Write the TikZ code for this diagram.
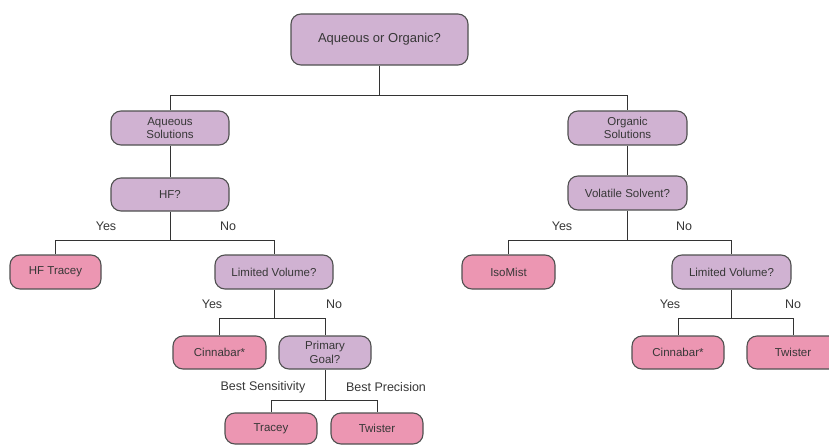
\documentclass[tikz,border=0pt]{standalone}
\usepackage{fontspec}
\setmainfont{Liberation Sans}
\definecolor{qfill}{RGB}{208,178,210}
\definecolor{afill}{RGB}{236,150,178}
\definecolor{edge}{RGB}{80,80,80}
\definecolor{txt}{RGB}{55,55,55}
\begin{document}
\begin{tikzpicture}[x=1pt,y=-1pt,
  box/.style={draw=edge, line width=1.1pt, rounded corners=10pt, align=center,
    inner sep=0pt, text=txt, font=\fontsize{11.5}{13.5}\selectfont},
  qbox/.style={box, fill=qfill},
  abox/.style={box, fill=afill},
  link/.style={draw=black!80, line width=0.9pt},
  lbl/.style={text=txt, font=\fontsize{12.5}{14}\selectfont, inner sep=0pt}]
\useasboundingbox (0,0) rectangle (829,444);

\node[qbox, minimum width=177pt, minimum height=51pt, font=\fontsize{13}{15}\selectfont] (top) at (379.5,39.5) {Aqueous or Organic?};

\node[qbox, minimum width=118pt, minimum height=34pt] (aq) at (170,128) {Aqueous\\Solutions};
\node[qbox, minimum width=118pt, minimum height=33pt] (hf) at (170,194.5) {HF?};
\node[abox, minimum width=91pt, minimum height=34pt] (hft) at (55.5,272) {HF Tracey};
\node[qbox, minimum width=118pt, minimum height=34pt] (lv1) at (274,272) {Limited Volume?};
\node[abox, minimum width=93pt, minimum height=33pt] (cin1) at (219.5,352.5) {Cinnabar*};
\node[qbox, minimum width=92pt, minimum height=33pt] (pg) at (325,352.5) {Primary\\Goal?};
\node[abox, minimum width=92pt, minimum height=31pt] (tr) at (271,428.5) {Tracey};
\node[abox, minimum width=92pt, minimum height=31pt] (tw1) at (377,428.5) {Twister};

\node[qbox, minimum width=119pt, minimum height=34pt] (org) at (627.5,128) {Organic\\Solutions};
\node[qbox, minimum width=119pt, minimum height=34pt] (vs) at (627.5,193) {Volatile Solvent?};
\node[abox, minimum width=93pt, minimum height=34pt] (iso) at (508.5,272) {IsoMist};
\node[qbox, minimum width=119pt, minimum height=34pt] (lv2) at (731.5,272) {Limited Volume?};
\node[abox, minimum width=92pt, minimum height=33pt] (cin2) at (678,352.5) {Cinnabar*};
\node[abox, minimum width=92pt, minimum height=33pt] (tw2) at (793,352.5) {Twister};

\coordinate (b0) at (0,95);
\coordinate (b1) at (0,240);
\coordinate (b2) at (0,318);
\coordinate (b3) at (0,400);

\draw[link] (top.south) -- (top.south |- b0);
\draw[link] (aq.north) |- (org.north |- b0) -- (org.north);

\draw[link] (aq.south) -- (hf.north);
\draw[link] (hf.south) -- (hf.south |- b1);
\draw[link] (hft.north) |- (lv1.north |- b1) -- (lv1.north);

\draw[link] (lv1.south) -- (lv1.south |- b2);
\draw[link] (cin1.north) |- (pg.north |- b2) -- (pg.north);

\draw[link] (pg.south) -- (pg.south |- b3);
\draw[link] (tr.north) |- (tw1.north |- b3) -- (tw1.north);

\draw[link] (org.south) -- (vs.north);
\draw[link] (vs.south) -- (vs.south |- b1);
\draw[link] (iso.north) |- (lv2.north |- b1) -- (lv2.north);

\draw[link] (lv2.south) -- (lv2.south |- b2);
\draw[link] (cin2.north) |- (tw2.north |- b2) -- (tw2.north);

\node[lbl] (y1) at (106,226) {Yes};
\node[lbl] (n1) at (228,226) {No};
\node[lbl] (y2) at (212,304) {Yes};
\node[lbl] (n2) at (334,304) {No};
\node[lbl] (bs) at (263,387) {Best Sensitivity};
\node[lbl] (bp) at (386,387) {Best Precision};
\node[lbl] (y3) at (562,226) {Yes};
\node[lbl] (n3) at (684,226) {No};
\node[lbl] (y4) at (670,304) {Yes};
\node[lbl] (n4) at (793,304) {No};
\end{tikzpicture}
\end{document}
